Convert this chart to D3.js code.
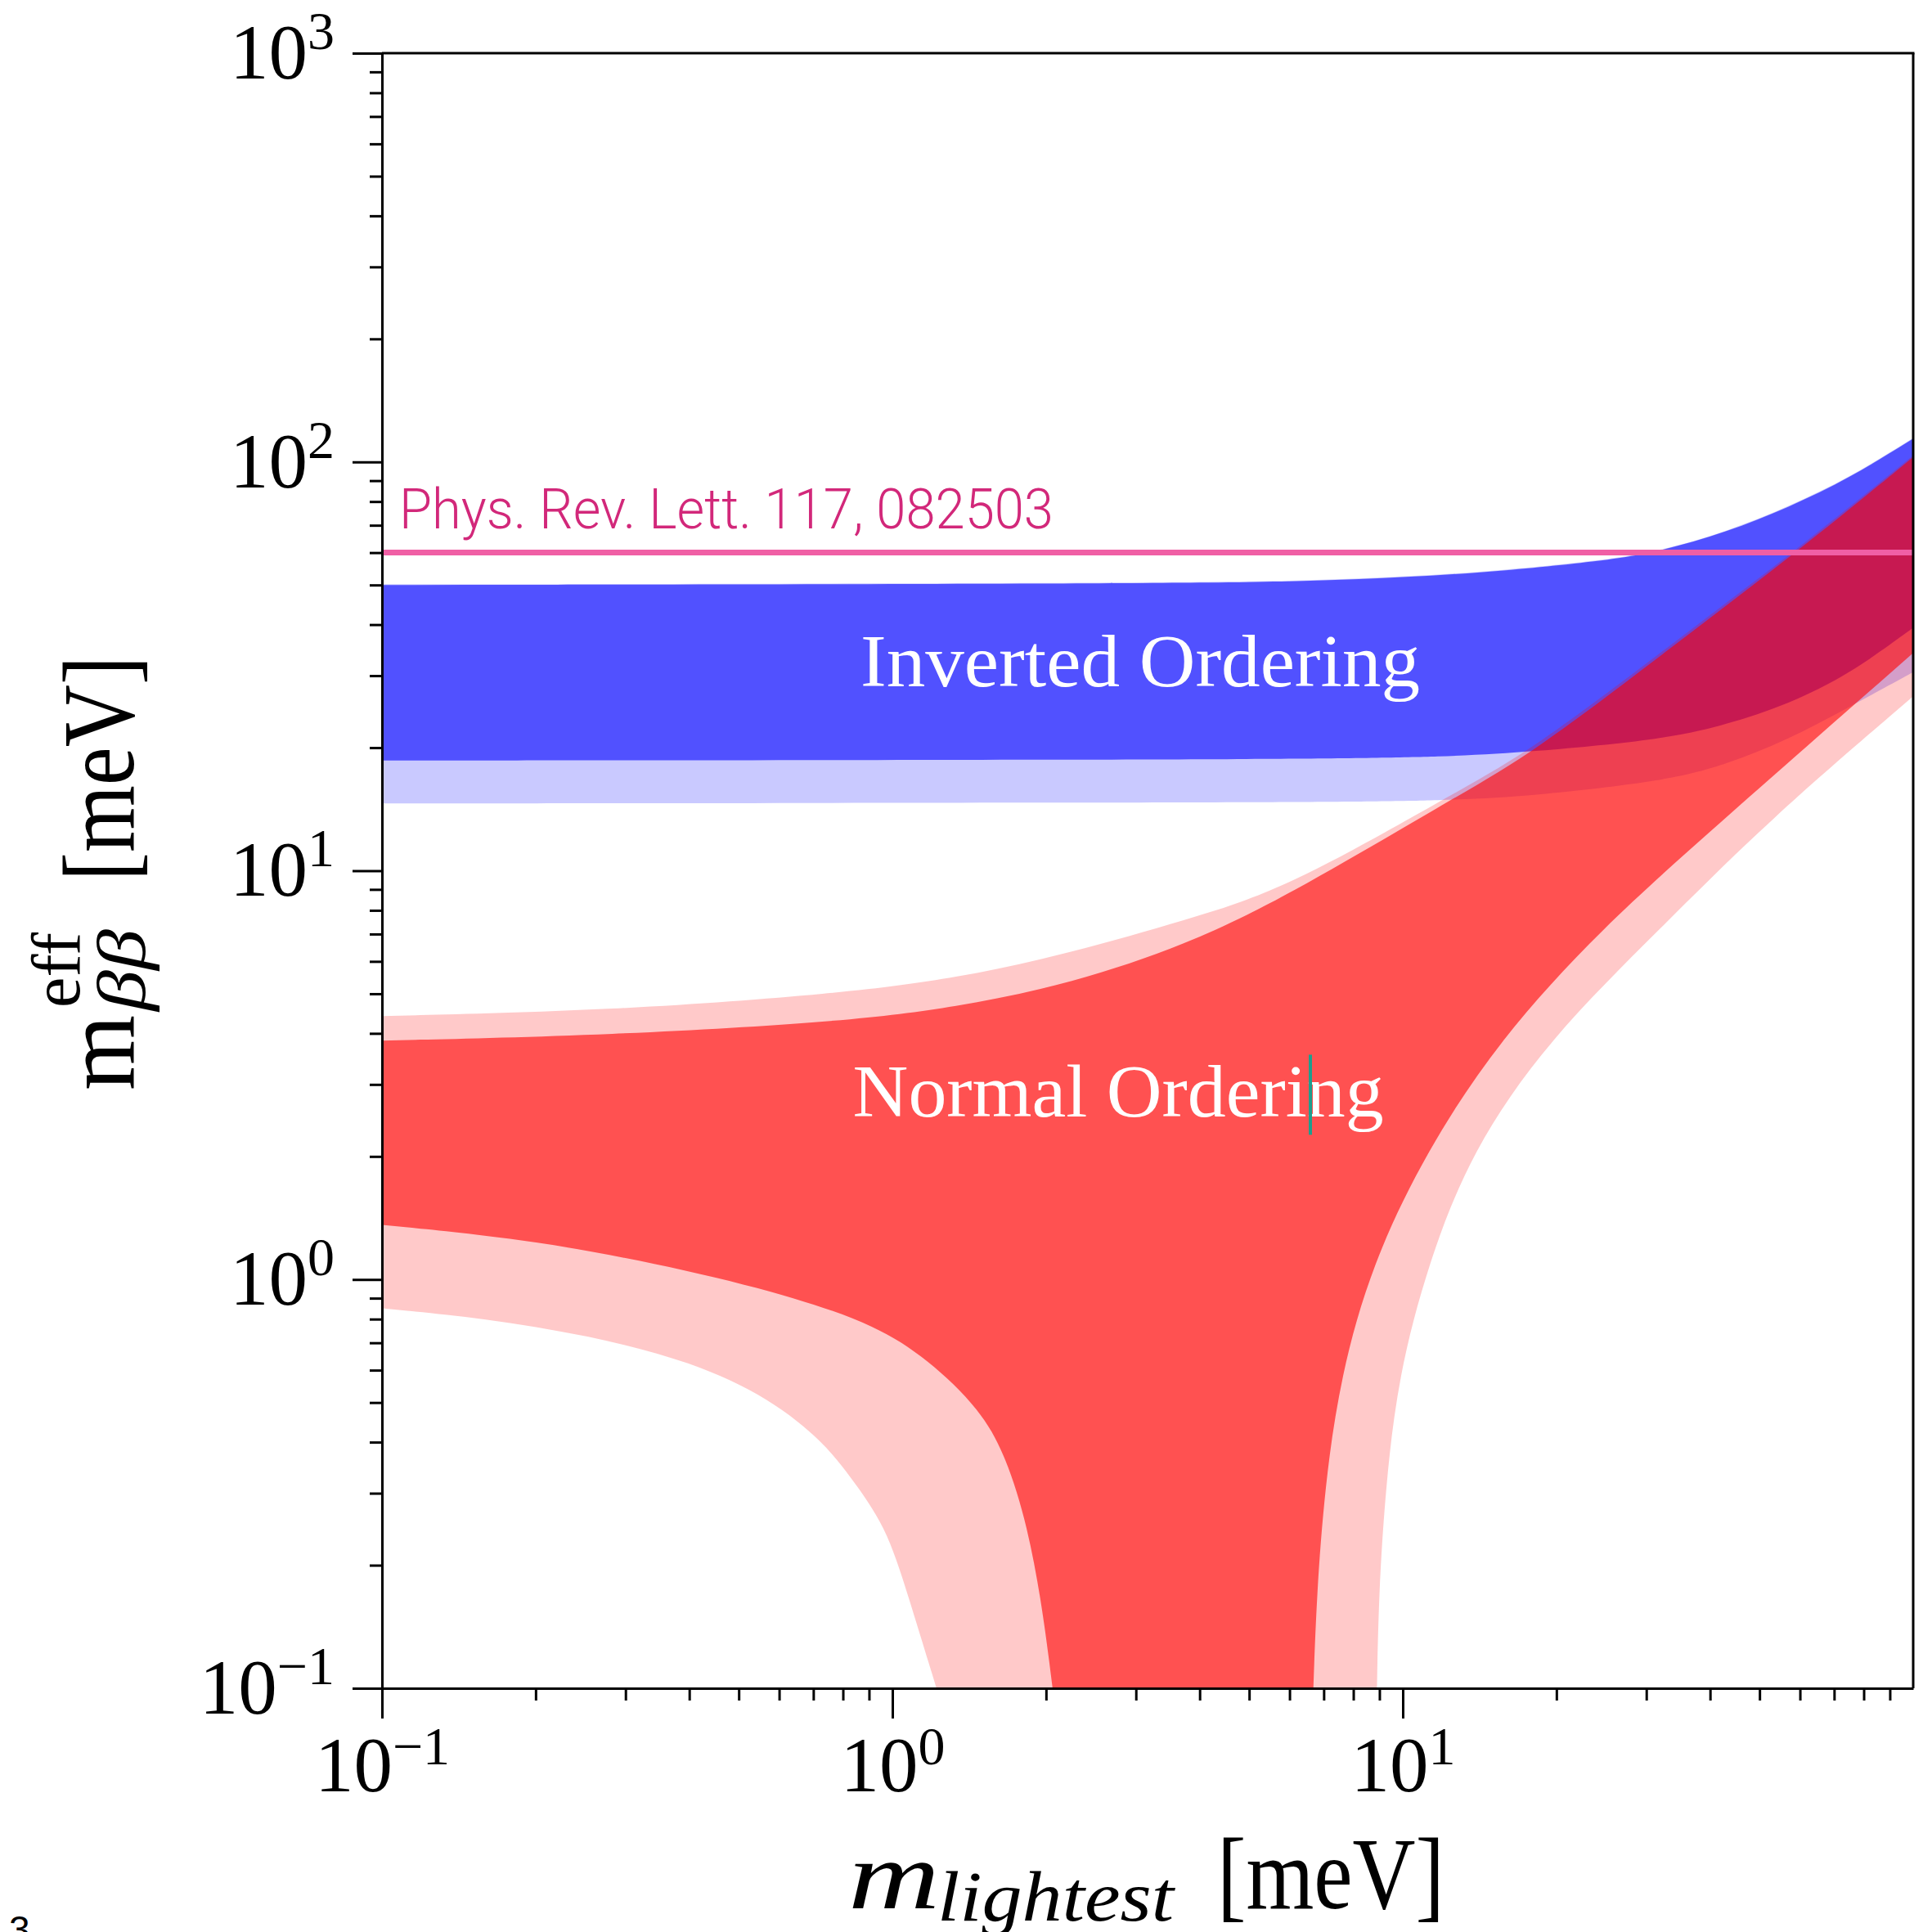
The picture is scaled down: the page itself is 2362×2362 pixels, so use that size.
<!DOCTYPE html>
<html><head><meta charset="utf-8">
<script src="https://cdn.jsdelivr.net/npm/d3@7"></script>
<style>body{margin:0;background:#fff;} svg{display:block;}</style>
</head><body>
<svg id="chart" width="2362" height="2362"></svg>
<script>
// ---------- data ----------
const xTickValues = [0.1, 1, 10];
const xTickExponents = ["\u22121", "0", "1"];
const yTickValues = [0.1, 1, 10, 100, 1000];
const yTickExponents = ["\u22121", "0", "1", "2", "3"];

// [m_lightest (meV), m_bb (meV)]
const IO_3s_upper = [[0.1,50.2],[1,50.4],[5,50.8],[8.1,51.7],[14.2,53.6],[24.7,57.4],[31.8,60.5],[43.1,67.5],[57,77.7],[75.2,91.7],[100,114.4]];
const IO_3s_lower = [[0.1,14.6],[1,14.65],[6.6,14.7],[12.2,14.85],[17.7,15.2],[33.1,16.6],[43.1,18.2],[56.8,20.9],[75.2,25.2],[100,30.6]];
const IO_1s_upper = [[0.1,50],[1,50.2],[5,50.6],[8.1,51.5],[14.2,53.4],[24.7,57.2],[31.8,60.3],[43.1,67.3],[57,77.4],[75.2,91.4],[100,114]];
const IO_1s_lower = [[0.1,18.6],[1,18.65],[6.6,18.75],[12.2,19],[17.7,19.5],[33.1,21],[43.1,22.8],[56.8,25.5],[75.2,30.3],[100,39.3]];

const NO_3s_upper = [[0.1,4.41],[0.283,4.55],[0.794,5.01],[1.33,5.45],[2.25,6.3],[3.77,7.6],[5.83,8.95],[12.4,15.3],[18,19.8],[33.1,35.3],[60,61.8],[100,103.8]];
const NO_3s_lower = [[0.1,0.85],[0.158,0.805],[0.254,0.73],[0.405,0.63],[0.578,0.51],[0.733,0.40],[0.826,0.33],[0.97,0.25],[1.07,0.171],[1.22,0.1],
                     [8.9,0.1],[8.97,0.168],[9.25,0.31],[9.8,0.58],[11.2,1.09],[13.6,2.05],[19.2,3.84],[31.9,7.2],[51.8,13.2],[100,26.7]];
const NO_1s_upper = [[0.1,3.84],[0.283,3.96],[0.794,4.27],[1.33,4.63],[2.25,5.3],[3.77,6.6],[5.83,8.55],[12.4,14.9],[18,19.4],[33.1,34.7],[60,61],[100,102.8]];
const NO_1s_lower = [[0.1,1.36],[0.2,1.25],[0.405,1.05],[0.652,0.90],[0.93,0.77],[1.17,0.64],[1.49,0.48],[1.67,0.368],[1.84,0.25],[1.97,0.156],[2.06,0.1],
                     [6.68,0.1],[6.78,0.168],[7.03,0.31],[7.55,0.58],[8.7,1.09],[11.1,2.05],[15.4,3.84],[24.4,7.2],[41.5,13.0],[100,34.1]];

const kamlandLimit = 60;
const kamlandLabel = "Phys. Rev. Lett. 117, 082503";
const labelIO = {text: "Inverted Ordering", m: 3.06, v: 28.3};
const labelNO = {text: "Normal Ordering", m: 2.77, v: 2.5};

// ---------- layout ----------
const W = 2362, H = 2362;
const margin = {left: 467, right: 23, top: 65, bottom: 298};
const svg = d3.select("#chart");
const x = d3.scaleLog().domain([0.1, 100]).range([margin.left, W - margin.right]);
const y = d3.scaleLog().domain([0.1, 1000]).range([H - margin.bottom, margin.top]);
const X0 = x.range()[0], X1 = x.range()[1], Y0 = y.range()[0], Y1 = y.range()[1];
const yFloor = y.domain()[0];

svg.append("rect").attr("width", W).attr("height", H).attr("fill", "#fff");
svg.append("defs").append("clipPath").attr("id", "plotclip").append("rect")
  .attr("x", X0).attr("y", Y1).attr("width", X1 - X0).attr("height", Y0 - Y1);

// area from a curve down to below the plot floor
const area = d3.area().x(d => x(d[0])).y0(Y0 + 40).y1(d => y(d[1])).curve(d3.curveBasis);

// split a lower boundary where it runs along the floor (m_bb -> 0)
function splitAtFloor(pts) {
  const segs = [[pts[0]]];
  for (let i = 1; i < pts.length; i++) {
    if (pts[i][1] <= yFloor && pts[i - 1][1] <= yFloor) segs.push([pts[i]]);
    else segs[segs.length - 1].push(pts[i]);
  }
  return segs;
}
function bandPath(upper, lower) {
  return area(upper) + splitAtFloor(lower).map(s => area(s)).join("");
}

const bands = svg.append("g").attr("clip-path", "url(#plotclip)");
const bandDefs = [
  {u: IO_3s_upper, l: IO_3s_lower, c: "#0000FF", o: 0.21},
  {u: IO_1s_upper, l: IO_1s_lower, c: "#0000FF", o: 0.595},
  {u: NO_3s_upper, l: NO_3s_lower, c: "#FF0000", o: 0.21},
  {u: NO_1s_upper, l: NO_1s_lower, c: "#FF0000", o: 0.595}
];
bands.selectAll("path.band").data(bandDefs).join("path")
  .attr("class", "band")
  .attr("d", d => bandPath(d.u, d.l))
  .attr("fill-rule", "evenodd")
  .attr("fill", d => d.c).attr("fill-opacity", d => d.o).attr("stroke", "none");

// KamLAND-Zen limit
svg.append("line")
  .attr("x1", X0).attr("x2", X1)
  .attr("y1", y(kamlandLimit)).attr("y2", y(kamlandLimit))
  .attr("stroke", "#F05FA5").attr("stroke-width", 7);
svg.append("text")
  .attr("x", X0 + 21).attr("y", y(kamlandLimit) - 30)
  .attr("font-family", "Roboto").attr("font-weight", 300).attr("font-size", 68)
  .attr("fill", "#D2287A")
  .attr("textLength", 800).attr("lengthAdjust", "spacingAndGlyphs")
  .text(kamlandLabel);

// region labels
svg.append("text")
  .attr("x", x(labelIO.m)).attr("y", y(labelIO.v))
  .attr("text-anchor", "middle")
  .attr("font-family", "Liberation Serif").attr("font-size", 90)
  .attr("fill", "#fff")
  .attr("textLength", 684).attr("lengthAdjust", "spacingAndGlyphs")
  .text(labelIO.text);
svg.append("text")
  .attr("x", x(labelNO.m)).attr("y", y(labelNO.v))
  .attr("text-anchor", "middle")
  .attr("font-family", "Liberation Serif").attr("font-size", 90)
  .attr("fill", "#fff")
  .attr("textLength", 649).attr("lengthAdjust", "spacingAndGlyphs")
  .text(labelNO.text);
// text cursor artefact
svg.append("line")
  .attr("x1", x(6.59)).attr("x2", x(6.59))
  .attr("y1", y(labelNO.v) - 76).attr("y2", y(labelNO.v) + 22)
  .attr("stroke", "#1E9E8E").attr("stroke-width", 4);

// ---------- axes ----------
function isPow10(v) { const l = Math.log10(v); return Math.abs(l - Math.round(l)) < 1e-6; }
function styleAxis(g) {
  g.selectAll("line,path").attr("stroke", "#000").attr("stroke-width", 3);
  g.attr("font-family", "Liberation Serif").attr("font-size", 95);
}

const gyMin = svg.append("g").attr("transform", `translate(${X0},0)`)
  .call(d3.axisLeft(y).tickValues(y.ticks().filter(v => !isPow10(v))).tickSize(15).tickSizeOuter(0).tickFormat(""));
gyMin.select(".domain").remove();
styleAxis(gyMin);
const gy = svg.append("g").attr("transform", `translate(${X0},0)`)
  .call(d3.axisLeft(y).tickValues(yTickValues).tickSize(36).tickSizeOuter(0).tickPadding(22).tickFormat(() => "10"));
styleAxis(gy);
gy.selectAll(".tick text").attr("fill", "#000").each(function(d) {
  d3.select(this).append("tspan").attr("dy", -36).attr("font-size", 66)
    .text(yTickExponents[yTickValues.findIndex(v => Math.abs(v - d) < 1e-9)]);
});

const gxMin = svg.append("g").attr("transform", `translate(0,${Y0})`)
  .call(d3.axisBottom(x).tickValues(x.ticks().filter(v => !isPow10(v))).tickSize(15).tickSizeOuter(0).tickFormat(""));
gxMin.select(".domain").remove();
styleAxis(gxMin);
const gx = svg.append("g").attr("transform", `translate(0,${Y0})`)
  .call(d3.axisBottom(x).tickValues(xTickValues).tickSize(37).tickSizeOuter(0).tickPadding(22).tickFormat(() => "10"));
styleAxis(gx);
gx.selectAll(".tick text").attr("fill", "#000").each(function(d) {
  d3.select(this).append("tspan").attr("dy", -33).attr("font-size", 66)
    .text(xTickExponents[xTickValues.findIndex(v => Math.abs(v - d) < 1e-9)]);
});

// frame top & right
svg.append("line").attr("x1", X0).attr("x2", X1 + 1.5).attr("y1", Y1).attr("y2", Y1).attr("stroke", "#000").attr("stroke-width", 3);
svg.append("line").attr("x1", X1).attr("x2", X1).attr("y1", Y1).attr("y2", Y0).attr("stroke", "#000").attr("stroke-width", 3);

// ---------- axis titles ----------
const xt = svg.append("g");
xt.append("text").attr("x", 1037).attr("y", 2333)
  .attr("font-family", "Liberation Serif").attr("font-style", "italic").attr("font-size", 118)
  .attr("textLength", 112).attr("lengthAdjust", "spacingAndGlyphs").text("m");
xt.append("text").attr("x", 1146).attr("y", 2348)
  .attr("font-family", "Liberation Serif").attr("font-style", "italic").attr("font-size", 86)
  .attr("textLength", 289).attr("lengthAdjust", "spacingAndGlyphs").text("lightest");
xt.append("text").attr("x", 1488).attr("y", 2333)
  .attr("font-family", "Liberation Serif").attr("font-size", 124)
  .attr("textLength", 278).attr("lengthAdjust", "spacingAndGlyphs").text("[meV]");

const yt = svg.append("g").attr("transform", "translate(163,0) rotate(-90)");
yt.append("text").attr("x", -1333).attr("y", 0)
  .attr("font-family", "Liberation Serif").attr("font-size", 124)
  .attr("textLength", 92).attr("lengthAdjust", "spacingAndGlyphs").text("m");
yt.append("text").attr("x", -1232).attr("y", -66)
  .attr("font-family", "Liberation Serif").attr("font-size", 84)
  .attr("textLength", 92).attr("lengthAdjust", "spacingAndGlyphs").text("eff");
yt.append("text").attr("x", -1236).attr("y", 14)
  .attr("font-family", "Liberation Serif").attr("font-style", "italic").attr("font-size", 84)
  .attr("textLength", 100).attr("lengthAdjust", "spacingAndGlyphs").text("\u03B2\u03B2");
yt.append("text").attr("x", -1077).attr("y", 0)
  .attr("font-family", "Liberation Serif").attr("font-size", 124)
  .attr("textLength", 275).attr("lengthAdjust", "spacingAndGlyphs").text("[meV]");

// stray page character at bottom-left
svg.append("text").attr("x", 11).attr("y", 2375)
  .attr("font-family", "Liberation Sans").attr("font-size", 46).text("3");
</script>
</body></html>
